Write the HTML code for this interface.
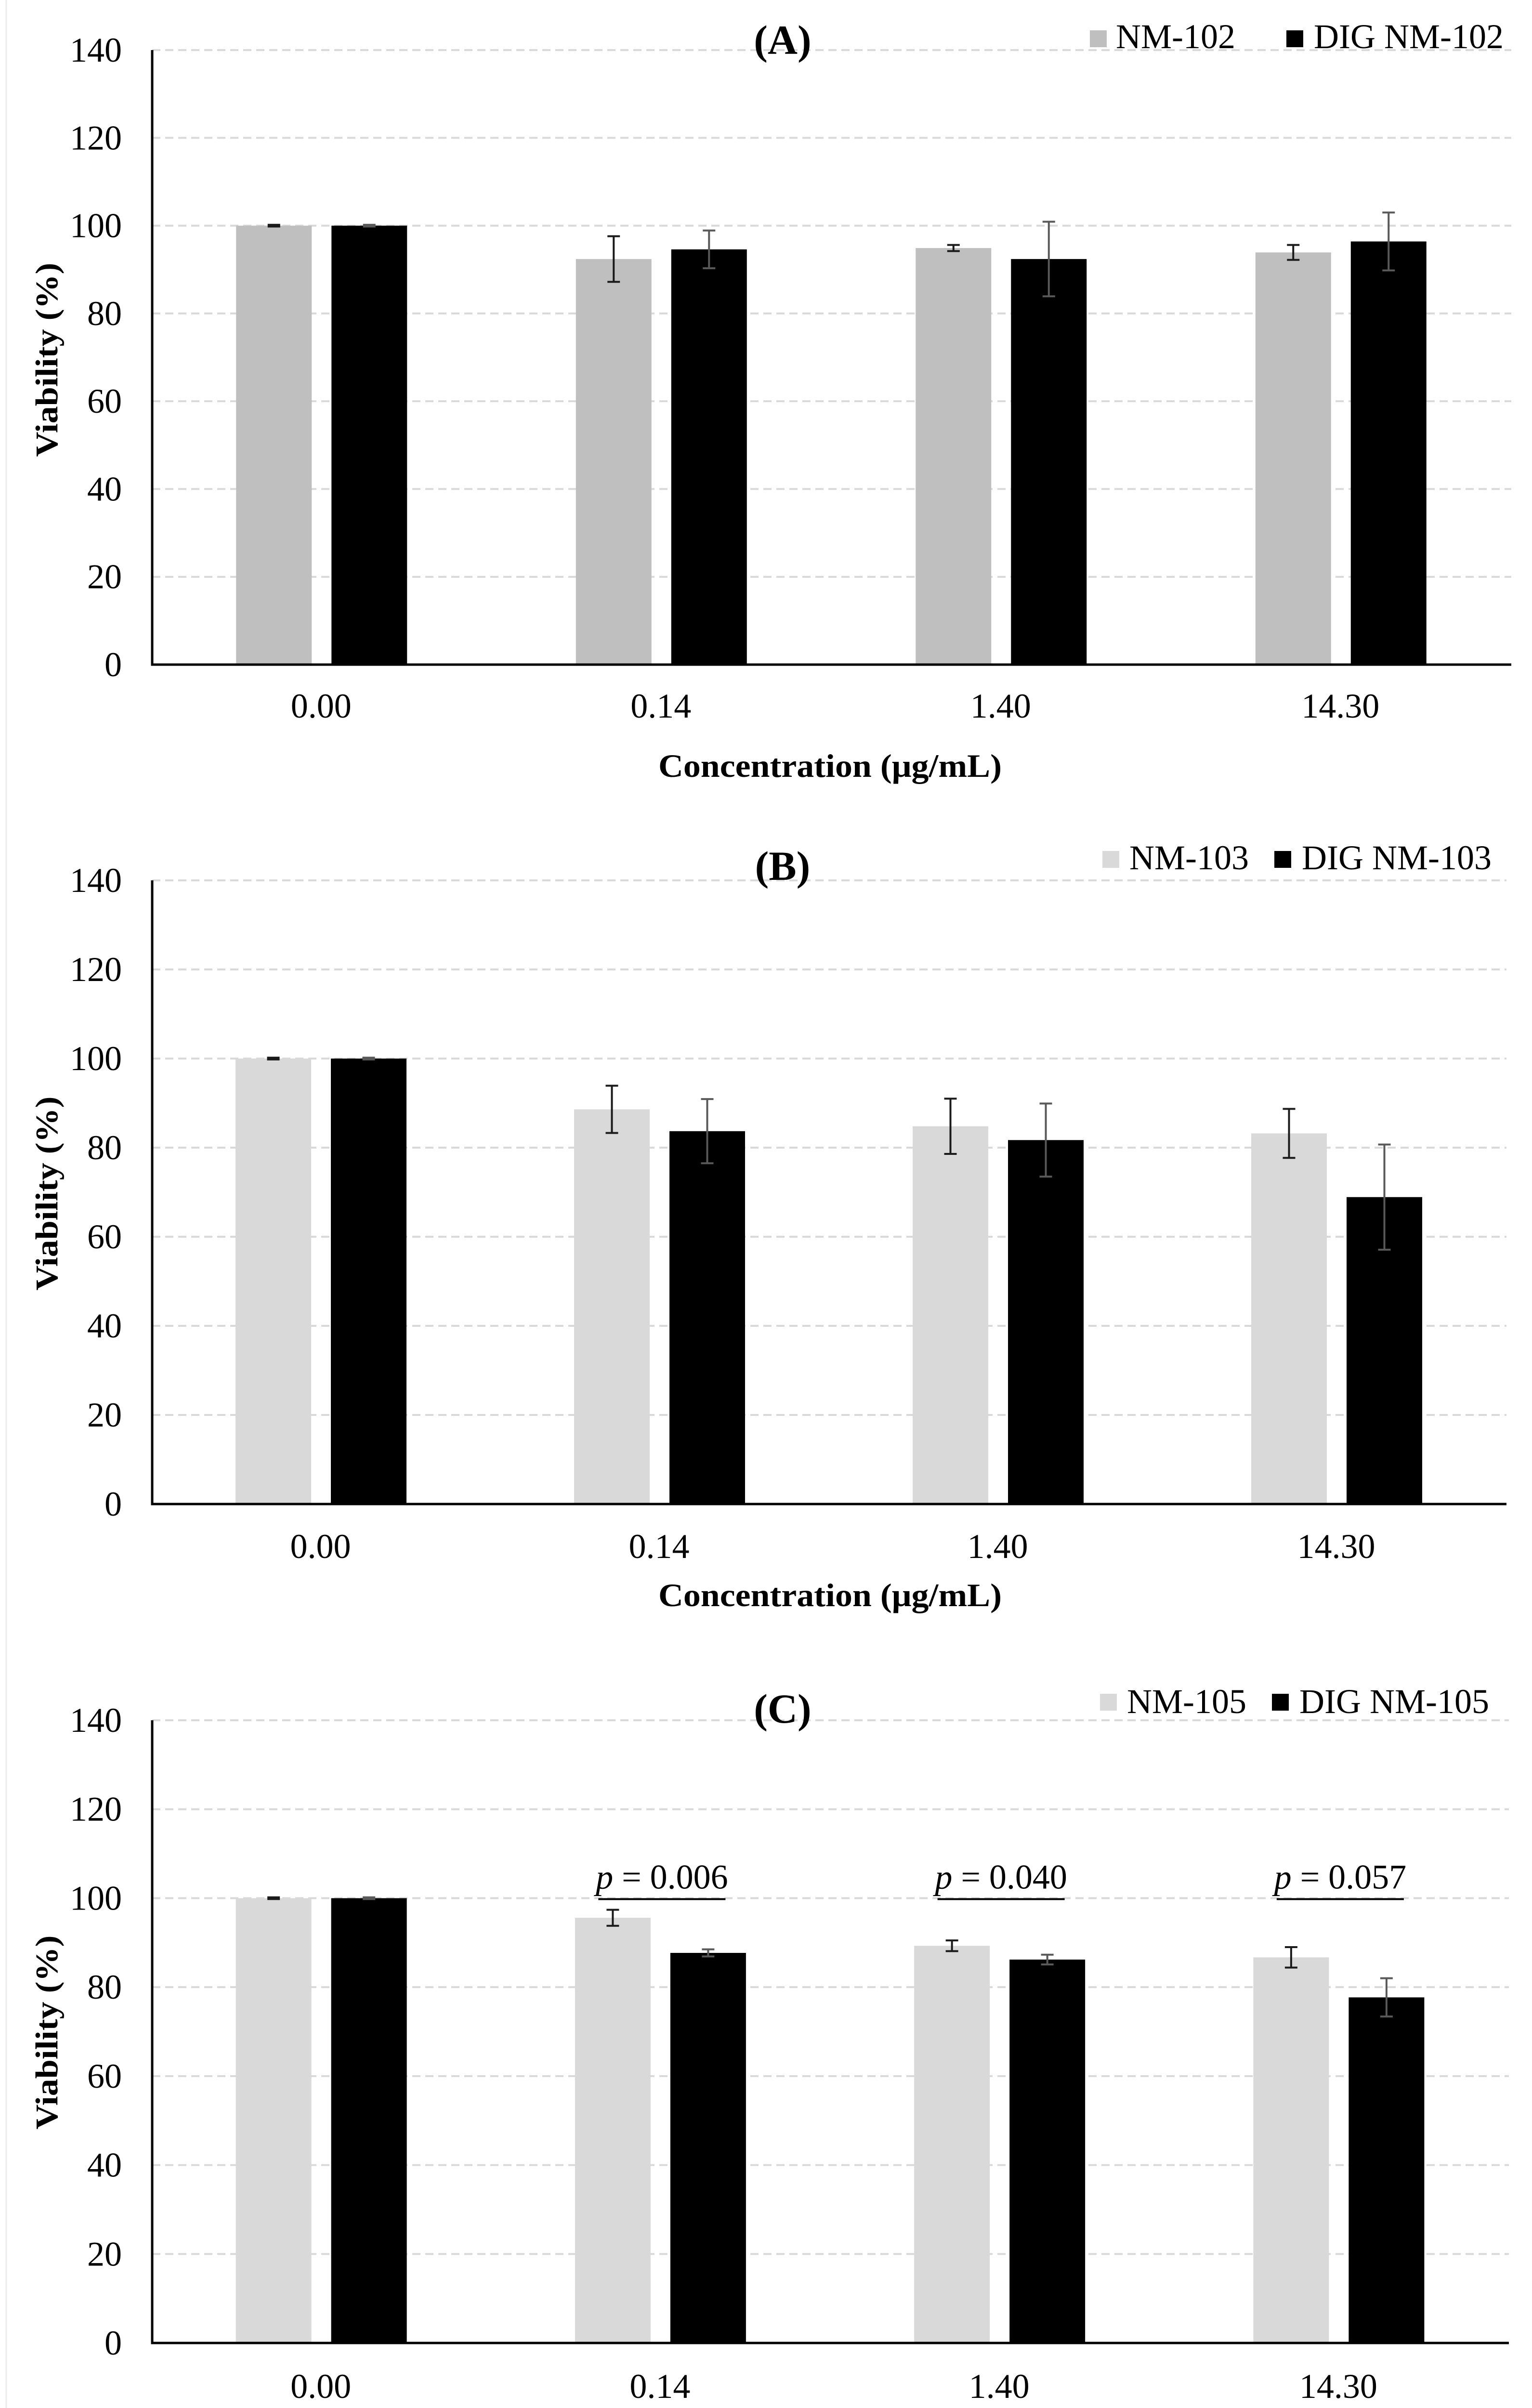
<!DOCTYPE html>
<html><head><meta charset="utf-8"><style>
html,body{margin:0;padding:0;background:#fff;width:3181px;height:5133px;overflow:hidden;}
svg{display:block;font-family:"Liberation Serif",serif;}
</style></head><body>
<svg id="fig" width="3181" height="5133" viewBox="0 0 3181 5133" xmlns="http://www.w3.org/2000/svg">
<rect x="0" y="0" width="3181" height="5133" fill="#fff"/>
<line x1="13" y1="0" x2="13" y2="5133" stroke="#ececec" stroke-width="3"/>
</svg>
<script>
const categories = ["0.00", "0.14", "1.40", "14.30"];
const yTicks = [0, 20, 40, 60, 80, 100, 120, 140];
const titles = ["(A)", "(B)", "(C)"];
const seriesNames = [["NM-102", "DIG NM-102"], ["NM-103", "DIG NM-103"], ["NM-105", "DIG NM-105"]];
const aNM = [100, 92.4, 94.9, 93.9];
const aNMErr = [0.2, 5.2, 0.7, 1.7];
const aDIG = [100, 94.6, 92.4, 96.4];
const aDIGErr = [0.2, 4.3, 8.5, 6.6];
const bNM = [100, 88.6, 84.8, 83.2];
const bNMErr = [0.2, 5.3, 6.2, 5.5];
const bDIG = [100, 83.7, 81.7, 68.9];
const bDIGErr = [0.2, 7.2, 8.2, 11.8];
const cNM = [100, 95.6, 89.3, 86.7];
const cNMErr = [0.2, 1.8, 1.2, 2.3];
const cDIG = [100, 87.7, 86.2, 77.7];
const cDIGErr = [0.2, 0.8, 1.1, 4.3];
const cPValues = ["", "0.006", "0.040", "0.057"];

const NS = "http://www.w3.org/2000/svg";
const svg = document.getElementById("fig");
function mk(tag, attrs, parent, text) {
  const e = document.createElementNS(NS, tag);
  for (const k in attrs) e.setAttribute(k, attrs[k]);
  if (text !== undefined) e.textContent = text;
  (parent || svg).appendChild(e);
  return e;
}
const layouts = [
  {top: 104, bottom: 1380, right: 3138, tickBase: 1490, xTitle: 1613, titleBase: 112, legY: 63, legBase: 100, gray: "#bfbfbf",
   legSq1: 2263, legT1: 2317, legSq2: 2671, legT2: 2728, yTitleC: 747},
  {top: 1828, bottom: 3123, right: 3128, tickBase: 3235, xTitle: 3335, titleBase: 1827, legY: 1767, legBase: 1805, gray: "#d9d9d9",
   legSq1: 2289, legT1: 2345, legSq2: 2646, legT2: 2703, yTitleC: 2478},
  {top: 3572, bottom: 4865, right: 3133, tickBase: 4979, xTitle: 5078, titleBase: 3577, legY: 3517, legBase: 3557, gray: "#d9d9d9",
   legSq1: 2284, legT1: 2340, legSq2: 2641, legT2: 2698, yTitleC: 4220}
];
const nmSeries = [aNM, bNM, cNM];
const nmErrs = [aNMErr, bNMErr, cNMErr];
const digSeries = [aDIG, bDIG, cDIG];
const digErrs = [aDIGErr, bDIGErr, cDIGErr];
const left = 316;

layouts.forEach((L, p) => {
  const g = mk("g", {});
  
  
  const y = v => L.bottom - (v / 140) * (L.bottom - L.top);
  const cw = (L.right - left) / categories.length;
  const xc = i => left + cw * (i + 0.5);
  yTicks.forEach(t => {
    if (t > 0) {
      const gl = mk("line", {x1: left, x2: L.right, y1: y(t), y2: y(t), stroke: "#d9d9d9", "stroke-width": 4, "stroke-dasharray": "17 10"}, g);
      
      
    }
    const tl = mk("text", {x: 253, y: y(t) + 24, "text-anchor": "end", "font-size": 72, fill: "#000"}, g, String(t));
    
    
  });
  const series = [[nmSeries[p], nmErrs[p], L.gray, "#1a1a1a", -100], [digSeries[p], digErrs[p], "#000", "#595959", 98]];
  series.forEach((s, si) => {
    s[0].forEach((v, i) => {
      const cx = xc(i) + s[4];
      const b = mk("rect", {x: cx - 78.5, y: y(v), width: 157, height: y(0) - y(v), fill: s[2]}, g);
      
      
      const e = s[1][i];
      const eg = mk("g", {stroke: s[3], "stroke-width": 4}, g);
      
      
      mk("line", {x1: cx, x2: cx, y1: y(v + e), y2: y(v - e)}, eg);
      mk("line", {x1: cx - 13, x2: cx + 13, y1: y(v + e), y2: y(v + e)}, eg);
      mk("line", {x1: cx - 13, x2: cx + 13, y1: y(v - e), y2: y(v - e)}, eg);
    });
  });
  const ax = mk("path", {d: `M${left} ${L.top} L${left} ${L.bottom} L${L.right} ${L.bottom}`, fill: "none", stroke: "#000", "stroke-width": 5}, g);
  
  
  categories.forEach((c, i) => {
    const t = mk("text", {x: xc(i) - 2, y: L.tickBase, "text-anchor": "middle", "font-size": 72}, g, c);
    
    
  });
  const xt = mk("text", {x: 1367, y: L.xTitle, "font-size": 68, "font-weight": "bold", textLength: 713, lengthAdjust: "spacingAndGlyphs"}, g, "Concentration  (\u03bcg/mL)");
  
  
  const yt = mk("text", {x: 0, y: 0, "font-size": 66, "font-weight": "bold", "text-anchor": "middle", textLength: 403, lengthAdjust: "spacingAndGlyphs",
    transform: `translate(119 ${L.yTitleC}) rotate(-90)`}, g, "Viability  (%)");
  
  
  const tt = mk("text", {x: 1625, y: L.titleBase, "font-size": 86, "font-weight": "bold", "text-anchor": "middle"}, g, titles[p]);
  
  
  const lg = mk("g", {}, g);
  
  
  const le1 = mk("g", {}, lg);
  
  
  mk("rect", {x: L.legSq1, y: L.legY, width: 35, height: 35, fill: L.gray}, le1);
  mk("text", {x: L.legT1, y: L.legBase, "font-size": 72}, le1, seriesNames[p][0]);
  const le2 = mk("g", {}, lg);
  
  
  mk("rect", {x: L.legSq2, y: L.legY, width: 35, height: 35, fill: "#000"}, le2);
  mk("text", {x: L.legT2, y: L.legBase, "font-size": 72}, le2, seriesNames[p][1]);
  if (p === 2) {
    cPValues.forEach((pv, i) => {
      if (!pv) return;
      const pg = mk("g", {}, g);
      
      
      const c = xc(i);
      mk("line", {x1: c - 130, x2: c + 134, y1: y(100) + 2, y2: y(100) + 2, stroke: "#000", "stroke-width": 4}, pg);
      const t = mk("text", {x: c + 2, y: y(100) - 20, "font-size": 72, "text-anchor": "middle"}, pg);
      mk("tspan", {"font-style": "italic"}, t, "p");
      mk("tspan", {}, t, " = " + pv);
    });
  }
});
</script>
</body></html>
